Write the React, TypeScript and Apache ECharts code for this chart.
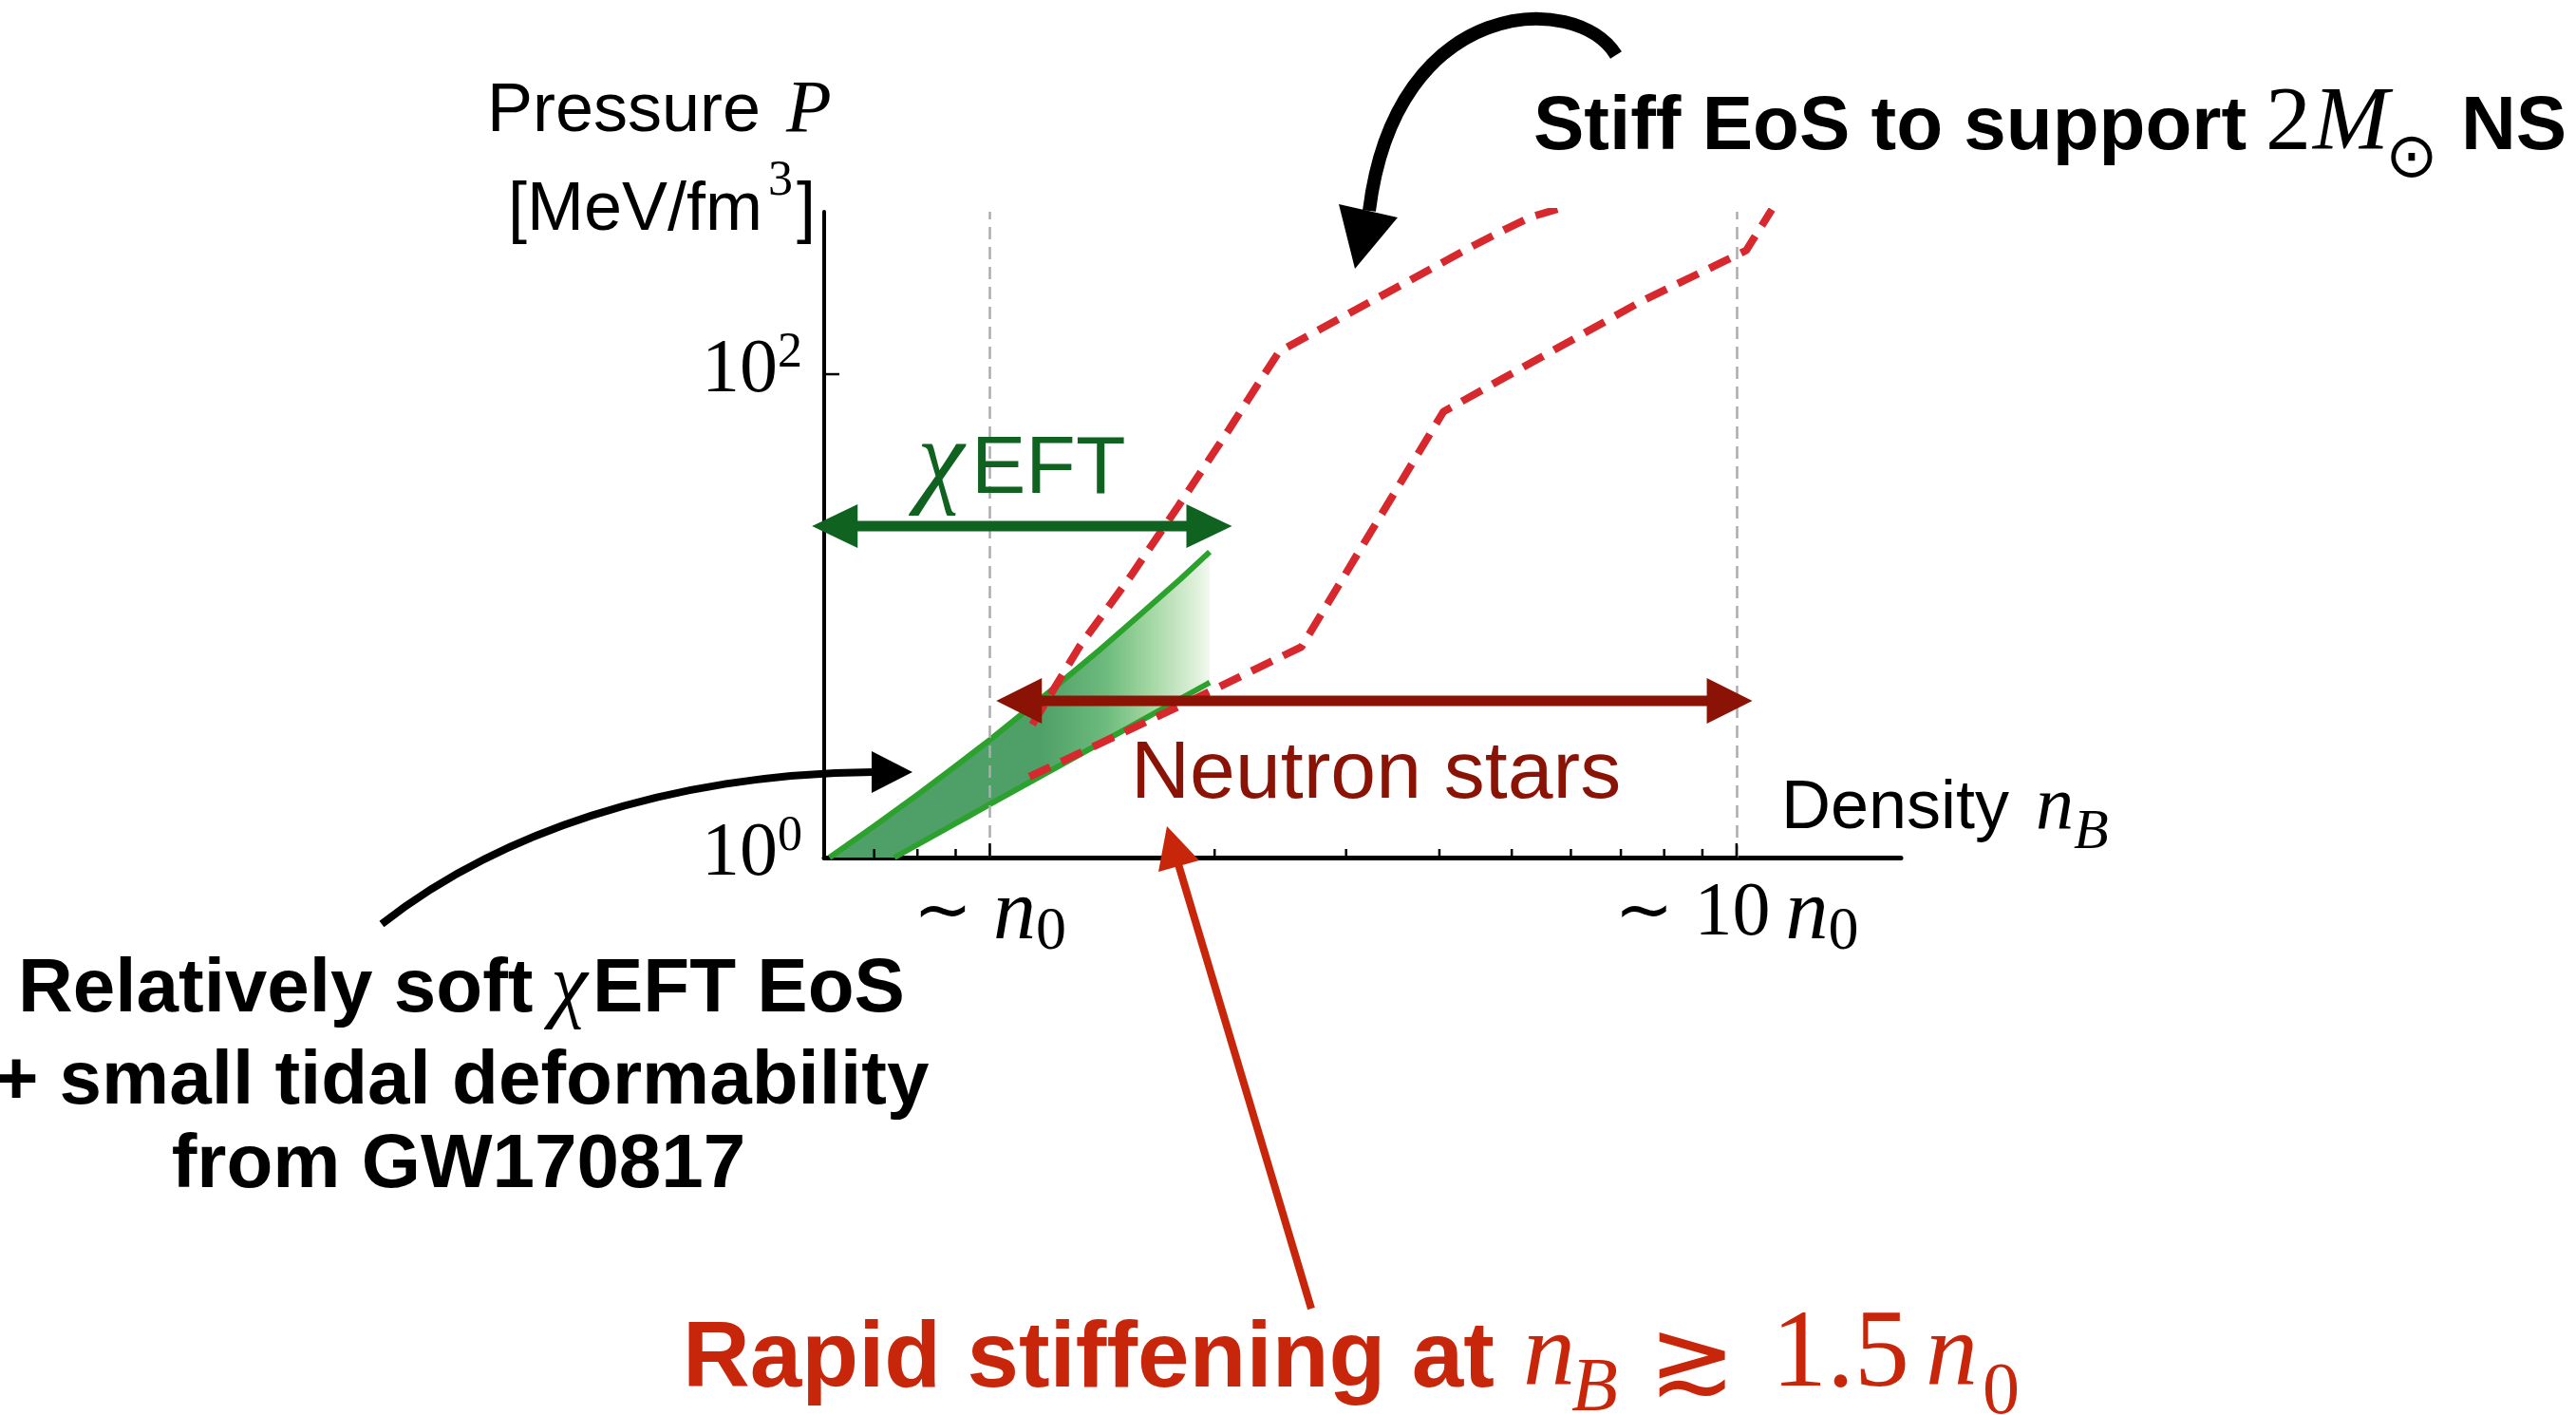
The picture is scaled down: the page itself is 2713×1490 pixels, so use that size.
import React, { useEffect, useRef } from 'react';
import * as echarts from 'echarts';

// ---------- axis ranges (density in units of n0, pressure in MeV/fm^3) ----------
const X_MIN = 0.6;
const X_MAX = 16.6;
const Y_MIN = 1;
const Y_MAX = 470;

// ---------- chiral EFT band ----------
const eftUpperX = [0.61, 0.7, 0.8, 0.9, 1.0, 1.2, 1.4, 1.6, 1.8, 1.97];
const eftUpperY = [1.0, 1.35, 1.82, 2.39, 3.07, 4.83, 7.19, 10.3, 14.2, 18.4];
const eftLowerX = [0.745, 1.0, 1.4, 1.97];
const eftLowerY = [1.0, 1.66, 2.95, 5.3];
const bandFadeRange = [1.17, 1.97];

// ---------- stiff EoS envelopes (red dashed) ----------
const stiffX = [1.14, 1.319, 1.544, 1.786, 2.089, 2.26, 2.44, 4.4, 4.92, 5.3, 5.8];
const stiffY = [3.55, 7.48, 14.6, 28.3, 58.8, 86.1, 124, 335, 400, 447, 485];
const softX = [1.13, 1.786, 2.615, 4.05, 7.45, 10.3, 11.15];
const softY = [2.16, 4.2, 7.45, 70, 200, 325, 480];

// ---------- reference densities, ticks, labels ----------
const refDensities = [1, 10];
const xMajorTicks = [1, 10];
const xMinorTicks = [0.7, 0.8, 0.9, 2, 3, 4, 5, 6, 7, 8, 9];
const yMajorTicks = [100];
const xLabelDecades = [0, 1];
const xLabelFactors = ['', '10'];
const yLabelExps = [0, 2];

// ---------- ranges shown as double arrows ----------
const eftRange = [0.578, 2.11];
const eftArrowP = 23.5;
const nsRange = [1.02, 10.5];
const nsArrowP = 4.45;

const SANS = "'Liberation Sans', Arial, Helvetica, sans-serif";
const SERIF = "'Liberation Serif', 'Times New Roman', serif";
const MATHSYM = "'DejaVu Sans', 'DejaVu Serif', sans-serif";

const GREEN_LINE = '#2ca12d';
const GREEN_DARK = '#0f6220';
const RED_DASH = '#d7282d';
const NS_RED = '#8a1306';
const POINT_RED = '#c8260b';

const isPow = (v: number, e: number) => Math.abs(Math.log10(v) - e) < 1e-6;

function T(x: number, base: number, text: string, size: number, opts: any = {}) {
  const family = opts.family || SANS;
  const k = family === SERIF ? 0.3375 : 0.346;
  return {
    type: 'text',
    x,
    y: base - k * size,
    z: 100,
    silent: true,
    style: {
      text,
      fontSize: size,
      fontFamily: family,
      fontWeight: opts.weight || 'normal',
      fontStyle: opts.style || 'normal',
      fill: opts.fill || '#000',
      align: opts.align || 'left',
      verticalAlign: 'middle',
    },
  };
}

function rangeArrow(range: number[], p: number, color: string, H: number) {
  return {
    type: 'custom',
    z: 6,
    silent: true,
    data: [[range[0], p, range[1]]],
    encode: { x: [0, 2], y: 1 },
    renderItem: (params: any, api: any) => {
      const a = api.coord([api.value(0), api.value(1)]);
      const b = api.coord([api.value(2), api.value(1)]);
      const L = 48;
      const W = 11;
      return {
        type: 'group',
        children: [
          {
            type: 'rect',
            shape: { x: a[0] + L - 2, y: a[1] - W / 2, width: b[0] - a[0] - 2 * L + 4, height: W },
            style: { fill: color },
          },
          {
            type: 'polygon',
            shape: { points: [[a[0], a[1]], [a[0] + L, a[1] - H], [a[0] + L, a[1] + H]] },
            style: { fill: color },
          },
          {
            type: 'polygon',
            shape: { points: [[b[0], b[1]], [b[0] - L, b[1] - H], [b[0] - L, b[1] + H]] },
            style: { fill: color },
          },
        ],
      };
    },
  };
}

function tickSeries(values: number[], axis: 'x' | 'y', len: number) {
  return {
    type: 'custom',
    z: 7,
    silent: true,
    data: values.map((v) => (axis === 'x' ? [v, Y_MIN] : [X_MIN, v])),
    renderItem: (params: any, api: any) => {
      const p = api.coord([api.value(0), api.value(1)]);
      return {
        type: 'line',
        shape:
          axis === 'x'
            ? { x1: p[0], y1: p[1], x2: p[0], y2: p[1] - len }
            : { x1: p[0], y1: p[1], x2: p[0] + len, y2: p[1] },
        style: { stroke: '#000', lineWidth: 2.5 },
      };
    },
  };
}

function buildOption() {
  const pairs = (xs: number[], ys: number[]) => xs.map((x, i) => [x, ys[i]]);

  const bandSeries = {
    type: 'custom',
    z: 2,
    silent: true,
    data: [[1, 1]],
    renderItem: (params: any, api: any) => {
      const pts: number[][] = [];
      eftUpperX.forEach((x, i) => pts.push(api.coord([x, eftUpperY[i]])));
      for (let i = eftLowerX.length - 1; i >= 0; i--) pts.push(api.coord([eftLowerX[i], eftLowerY[i]]));
      const a = api.coord([bandFadeRange[0], Y_MIN]);
      const b = api.coord([bandFadeRange[1], Y_MIN]);
      return {
        type: 'polygon',
        shape: { points: pts },
        style: {
          fill: new echarts.graphic.LinearGradient(
            a[0], 0, b[0], 0,
            [
              { offset: 0, color: '#4fa068' },
              { offset: 0.38, color: '#6cba7c' },
              { offset: 0.62, color: '#9dd49d' },
              { offset: 0.92, color: '#def0da' },
              { offset: 1, color: '#f2f9f0' },
            ],
            true
          ),
        },
      };
    },
  };

  const refLines = {
    type: 'line',
    z: 3,
    silent: true,
    data: [[1, 1]],
    symbol: 'none',
    lineStyle: { width: 0 },
    markLine: {
      silent: true,
      symbol: 'none',
      label: { show: false },
      lineStyle: { color: '#acacac', width: 2.5, type: [13, 8] },
      data: refDensities.map((v) => ({ xAxis: v })),
    },
  };

  const lineBase = { type: 'line', symbol: 'none', showSymbol: false, silent: true, clip: true, emphasis: { disabled: true } };

  const graphics: any[] = [
    // y-axis name
    T(513, 138, 'Pressure', 72),
    T(828, 138, 'P', 78, { family: SERIF, style: 'italic' }),
    T(535, 242, '[MeV/fm', 72),
    T(809, 205, '3', 52, { family: SERIF }),
    T(839, 242, ']', 72),
    // chi EFT label
    T(966, 519, 'χ', 112, { family: SERIF, style: 'italic', fill: GREEN_DARK }),
    T(1023, 519, 'EFT', 86, { fill: GREEN_DARK }),
    // neutron stars
    T(1191, 840, 'Neutron stars', 86, { fill: NS_RED }),
    // x-axis name
    T(1876, 872, 'Density', 72),
    T(2144, 872, 'n', 80, { family: SERIF, style: 'italic' }),
    T(2184, 893, 'B', 60, { family: SERIF, style: 'italic' }),
    // stiff EoS
    T(1615, 157, 'Stiff EoS to support', 80, { weight: 'bold' }),
    T(2386, 157, '2', 96, { family: SERIF }),
    T(2436, 157, 'M', 96, { family: SERIF, style: 'italic' }),
    {
      type: 'text', x: 2540, y: 163, z: 100, silent: true,
      style: { text: '⊙', fontSize: 66, fontFamily: MATHSYM, fill: '#000', align: 'center', verticalAlign: 'middle' },
    },
    T(2592, 157, 'NS', 80, { weight: 'bold' }),
    // soft EoS note
    T(19, 1065, 'Relatively soft', 80, { weight: 'bold' }),
    T(580, 1065, 'χ', 88, { family: SERIF, style: 'italic' }),
    T(624, 1065, 'EFT EoS', 80, { weight: 'bold' }),
    T(486, 1162, '+ small tidal deformability', 80, { weight: 'bold', align: 'center' }),
    T(483, 1250, 'from GW170817', 80, { weight: 'bold', align: 'center' }),
    // rapid stiffening
    T(719, 1460, 'Rapid stiffening at', 98, { weight: 'bold', fill: POINT_RED }),
    T(1604, 1458, 'n', 110, { family: SERIF, style: 'italic', fill: POINT_RED }),
    T(1655, 1485, 'B', 80, { family: SERIF, style: 'italic', fill: POINT_RED }),
    {
      type: 'text', x: 1782, y: 1429, z: 100, silent: true,
      style: { text: '≳', fontSize: 110, fontFamily: MATHSYM, fill: POINT_RED, align: 'center', verticalAlign: 'middle' },
    },
    T(1866, 1459, '1.5', 116, { family: SERIF, fill: POINT_RED }),
    T(2028, 1458, 'n', 110, { family: SERIF, style: 'italic', fill: POINT_RED }),
    T(2088, 1488, '0', 78, { family: SERIF, fill: POINT_RED }),
    // curved arrow to stiff EoS
    {
      type: 'bezierCurve', z: 90, silent: true,
      shape: { x1: 1702, y1: 58, cpx1: 1660, cpy1: -10, cpx2: 1470, cpy2: -5, x2: 1442, y2: 222 },
      style: { stroke: '#000', lineWidth: 14, fill: 'none' },
    },
    {
      type: 'polygon', z: 90, silent: true,
      shape: { points: [[1410, 215], [1472, 229], [1427, 283]] },
      style: { fill: '#000' },
    },
    // curved arrow to soft band
    {
      type: 'bezierCurve', z: 90, silent: true,
      shape: { x1: 402, y1: 973, cpx1: 520, cpy1: 880, cpx2: 700, cpy2: 815, x2: 920, y2: 813 },
      style: { stroke: '#000', lineWidth: 8, fill: 'none' },
    },
    {
      type: 'polygon', z: 90, silent: true,
      shape: { points: [[918, 791], [918, 835], [961, 813]] },
      style: { fill: '#000' },
    },
    // red pointer arrow
    {
      type: 'line', z: 90, silent: true,
      shape: { x1: 1381, y1: 1378, x2: 1241, y2: 910 },
      style: { stroke: POINT_RED, lineWidth: 8 },
    },
    {
      type: 'polygon', z: 90, silent: true,
      shape: { points: [[1229, 870], [1263, 906], [1220, 918]] },
      style: { fill: POINT_RED },
    },
  ];

  return {
    animation: false,
    backgroundColor: '#ffffff',
    grid: { left: 868, top: 223, width: 1134, height: 680, containLabel: false },
    xAxis: {
      type: 'log',
      logBase: 10,
      min: X_MIN,
      max: X_MAX,
      axisLine: { show: true, onZero: false, lineStyle: { color: '#000', width: 5 } },
      axisTick: { show: false },
      minorTick: { show: false },
      splitLine: { show: false },
      axisLabel: {
        margin: 2,
        color: '#000',
        formatter: (v: number) => {
          const i = xLabelDecades.findIndex((e) => isPow(v, e));
          if (i < 0) return '';
          return xLabelFactors[i]
            ? `{t|~}{g| }{d|${xLabelFactors[i]}}{h| }{n|n}{s|0}`
            : '{t|~}{g| }{n|n}{s|0}';
        },
        rich: {
          t: { fontFamily: MATHSYM, fontSize: 74, color: '#000' },
          g: { width: 22, fontSize: 20 },
          h: { width: 16, fontSize: 20 },
          d: { fontFamily: SERIF, fontSize: 80, color: '#000' },
          n: { fontFamily: SERIF, fontStyle: 'italic', fontSize: 90, lineHeight: 104, color: '#000' },
          s: { fontFamily: SERIF, fontSize: 64, verticalAlign: 'bottom', color: '#000' },
        },
      },
    },
    yAxis: {
      type: 'log',
      logBase: 10,
      min: Y_MIN,
      max: Y_MAX,
      axisLine: { show: true, onZero: false, lineStyle: { color: '#000', width: 4 } },
      axisTick: { show: false },
      minorTick: { show: false },
      splitLine: { show: false },
      axisLabel: {
        margin: 23,
        padding: [0, 0, 18, 0],
        color: '#000',
        formatter: (v: number) => {
          const e = Math.round(Math.log10(v));
          return isPow(v, e) && yLabelExps.includes(e) ? `{b|10}{p|${e}}` : '';
        },
        rich: {
          b: { fontFamily: SERIF, fontSize: 80, lineHeight: 86, color: '#000' },
          p: { fontFamily: SERIF, fontSize: 52, verticalAlign: 'top', color: '#000' },
        },
      },
    },
    series: [
      bandSeries,
      refLines,
      { ...lineBase, z: 4, data: pairs(eftUpperX, eftUpperY), lineStyle: { color: GREEN_LINE, width: 6, join: 'round' } },
      { ...lineBase, z: 4, data: pairs(eftLowerX, eftLowerY), lineStyle: { color: GREEN_LINE, width: 6, join: 'round' } },
      { ...lineBase, z: 5, data: pairs(stiffX, stiffY), lineStyle: { color: RED_DASH, width: 8, type: [24, 13] } },
      { ...lineBase, z: 5, data: pairs(softX, softY), lineStyle: { color: RED_DASH, width: 8, type: [24, 13] } },
      rangeArrow(eftRange, eftArrowP, GREEN_DARK, 23),
      rangeArrow(nsRange, nsArrowP, NS_RED, 24),
      tickSeries(xMajorTicks, 'x', 15),
      tickSeries(xMinorTicks, 'x', 9),
      tickSeries(yMajorTicks, 'y', 16),
    ],
    graphic: { elements: graphics },
  };
}

export default function App() {
  const ref = useRef<HTMLDivElement>(null);
  useEffect(() => {
    document.body.style.margin = '0';
    const chart = echarts.init(ref.current as HTMLDivElement, null, { renderer: 'svg' });
    chart.setOption(buildOption() as any);
    return () => chart.dispose();
  }, []);
  return (
    <div
      ref={ref}
      style={{ position: 'absolute', left: 0, top: 0, width: 2713, height: 1490, background: '#fff' }}
    />
  );
}
